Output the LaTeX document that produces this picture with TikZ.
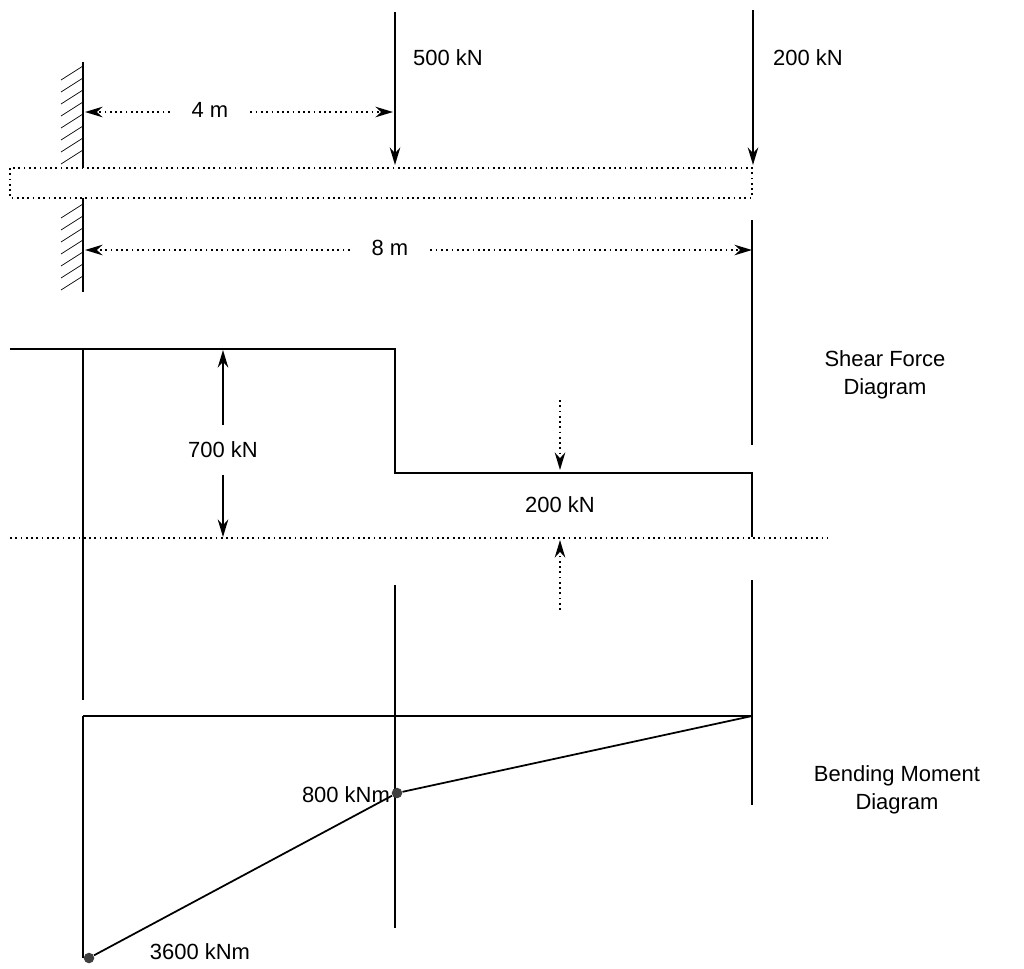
\documentclass[tikz,border=0pt]{standalone}
\usepackage{fontspec}
\setmainfont{Liberation Sans}
\usetikzlibrary{arrows.meta}
\begin{document}
\begin{tikzpicture}[x=0.02cm,y=-0.02cm,
  ln/.style={line width=1pt},
  dl/.style={line width=1pt,dotted},
  arr/.style={-{Stealth[length=10pt,width=6pt]}},
  lbl/.style={font=\fontsize{12.5}{16}\selectfont,inner sep=1pt,align=center},
  dot/.style={circle,fill=black!75,inner sep=0pt,minimum size=6pt}]
\useasboundingbox (0,0) rectangle (1024,968);
% wall
\draw[ln] (83,62) -- (83,168) (83,198) -- (83,292);
\foreach \y in {66,78,...,150} \draw (83,\y) -- (61,\y+14);
\foreach \y in {204,216,...,278} \draw (83,\y) -- (61,\y+14);
% beam
\draw[dl] (10,168) rectangle (752,198);
% loads
\coordinate (a500) at (395,12); \coordinate (b500) at (395,165);
\coordinate (a200) at (753,10); \coordinate (b200) at (753,165);
\draw[ln,arr] (a500) -- (b500);
\draw[ln,arr] (a200) -- (b200);
\node[lbl] (l500) at (448,58) {500 kN};
\node[lbl] (l200) at (808,58) {200 kN};
% 4 m
\node[lbl] (d4) at (210,110) {4 m};
\coordinate (d4l) at (85,112); \coordinate (d4r) at (393,112);
\draw[dl,arr] (d4.west) ++(-20,2) -- (d4l);
\draw[dl,arr] (d4.east) ++(20,2) -- (d4r);
% 8 m
\node[lbl] (d8) at (390,248) {8 m};
\coordinate (d8l) at (85,250); \coordinate (d8r) at (752,250);
\draw[dl,arr] (d8.west) ++(-20,2) -- (d8l);
\draw[dl,arr] (d8.east) ++(20,2) -- (d8r);
\draw[ln] (752,220) -- (752,445);
% shear force
\draw[ln] (10,349) -- (395,349) -- (395,473) -- (752,473) -- (752,537);
\draw[ln] (83,349) -- (83,700);
\draw[dl] (10,538) -- (828,538);
\node[lbl] (l700) at (223,450) {700 kN};
\draw[ln,arr] (223,425) -- (223,350);
\draw[ln,arr] (223,475) -- (223,537);
\node[lbl] (l200b) at (560,505) {200 kN};
\draw[dl,arr] (560,400) -- (560,470);
\draw[dl,arr] (560,610) -- (560,540);
\node[lbl] (sfd) at (885,375) {Shear Force\\Diagram};
% verticals
\draw[ln] (395,585) -- (395,928);
\draw[ln] (752,580) -- (752,805);
% bending moment
\draw[ln] (83,716) -- (752,716);
\draw[ln] (83,716) -- (83,958);
\node[dot] (p1) at (89,958) {};
\node[dot] (p2) at (397,793) {};
\coordinate (p3) at (752,716);
\draw[ln] (p1) -- (p2) -- (p3);
\node[lbl,anchor=east] (l800) at (392,795) {800 kNm};
\node[lbl] (l3600) at (200,952) {3600 kNm};
\node[lbl] (bmd) at (897,790) {Bending Moment\\Diagram};
\end{tikzpicture}
\end{document}
